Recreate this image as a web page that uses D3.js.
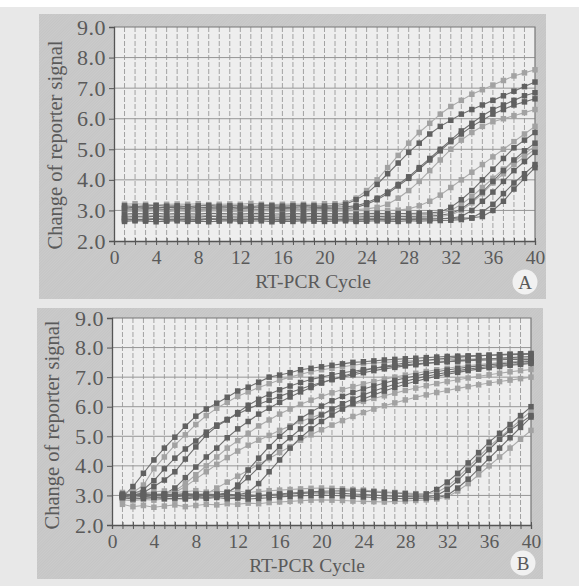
<!DOCTYPE html>
<html>
<head>
<meta charset="utf-8">
<style>
body { margin: 0; background: #fff; }
svg text { font-family: "Liberation Serif", "Times New Roman", serif; fill: #5a5a5a; }
</style>
</head>
<body>
<svg width="579" height="586"></svg>
<script src="https://d3js.org/d3.v7.min.js"></script>
<script>

// ---- data ----
var cycles = [1,2,3,4,5,6,7,8,9,10,11,12,13,14,15,16,17,18,19,20,
              21,22,23,24,25,26,27,28,29,30,31,32,33,34,35,36,37,38,39,40];
var xTicks = [0,4,8,12,16,20,24,28,32,36,40];
var yTicks = [2,3,4,5,6,7,8,9];

// panel A: early risers
var aU1 = [3.20,3.22,3.20,3.18,3.20,3.21,3.20,3.22,3.19,3.20,3.21,3.20,3.23,3.20,3.19,3.20,3.21,3.20,3.20,3.22,3.22,3.25,3.40,3.65,4.00,4.40,4.80,5.20,5.55,5.85,6.15,6.40,6.60,6.80,6.95,7.10,7.25,7.40,7.50,7.60];
var aU2 = [3.15,3.13,3.15,3.16,3.14,3.15,3.13,3.15,3.16,3.14,3.15,3.15,3.13,3.16,3.15,3.14,3.15,3.16,3.15,3.14,3.16,3.20,3.35,3.55,3.85,4.20,4.55,4.90,5.20,5.50,5.75,5.95,6.15,6.30,6.45,6.60,6.75,6.90,7.05,7.20];
var aU3 = [3.08,3.10,3.11,3.09,3.10,3.10,3.12,3.09,3.10,3.11,3.10,3.08,3.10,3.11,3.10,3.09,3.10,3.12,3.10,3.10,3.11,3.12,3.15,3.25,3.40,3.60,3.85,4.10,4.40,4.70,5.00,5.30,5.60,5.85,6.10,6.30,6.45,6.60,6.75,6.85];
var aU4 = [3.05,3.04,3.06,3.05,3.03,3.05,3.06,3.04,3.05,3.05,3.04,3.06,3.05,3.03,3.05,3.06,3.05,3.04,3.05,3.06,3.05,3.06,3.10,3.20,3.35,3.55,3.80,4.05,4.35,4.65,4.95,5.25,5.50,5.75,5.95,6.15,6.30,6.45,6.55,6.65];
var aU5 = [2.98,3.00,3.01,2.99,3.00,3.02,3.00,2.98,3.00,3.01,3.00,2.99,3.00,3.01,3.00,2.99,3.01,3.00,3.00,3.02,3.01,3.02,3.03,3.05,3.10,3.20,3.40,3.65,3.95,4.30,4.65,5.00,5.30,5.55,5.75,5.90,6.00,6.10,6.20,6.30];
// panel A: late risers
var aL1 = [2.96,2.98,2.97,2.99,2.96,2.98,2.97,2.96,2.99,2.98,2.97,2.96,2.98,2.99,2.97,2.96,2.98,2.97,2.99,2.98,2.97,2.98,2.99,3.00,2.99,3.00,3.01,3.05,3.15,3.30,3.50,3.75,4.00,4.25,4.50,4.75,5.00,5.25,5.50,5.75];
var aL2 = [2.88,2.90,2.89,2.91,2.88,2.90,2.89,2.88,2.91,2.90,2.89,2.88,2.90,2.91,2.89,2.88,2.90,2.89,2.91,2.90,2.89,2.90,2.88,2.90,2.91,2.89,2.90,2.90,2.91,2.92,2.95,3.10,3.35,3.65,4.00,4.35,4.70,5.05,5.30,5.55];
var aL3 = [2.78,2.80,2.79,2.81,2.78,2.80,2.79,2.78,2.81,2.80,2.79,2.78,2.80,2.81,2.79,2.78,2.80,2.79,2.81,2.80,2.79,2.80,2.78,2.80,2.81,2.79,2.80,2.80,2.81,2.82,2.84,2.90,3.05,3.30,3.60,3.95,4.30,4.65,4.95,5.20];
var aL4 = [2.74,2.76,2.75,2.73,2.75,2.76,2.74,2.75,2.73,2.75,2.76,2.74,2.75,2.76,2.73,2.75,2.74,2.76,2.75,2.74,2.75,2.76,2.74,2.75,2.76,2.75,2.74,2.76,2.77,2.78,2.80,2.85,3.00,3.25,3.55,3.90,4.20,4.50,4.75,5.00];
var aL5 = [2.68,2.70,2.69,2.71,2.68,2.70,2.69,2.68,2.71,2.70,2.69,2.68,2.70,2.71,2.69,2.68,2.70,2.69,2.71,2.70,2.69,2.70,2.68,2.70,2.71,2.69,2.70,2.70,2.71,2.72,2.73,2.75,2.80,3.00,3.30,3.60,3.95,4.30,4.60,4.90];
var aL6 = [2.64,2.66,2.65,2.63,2.65,2.66,2.64,2.65,2.63,2.65,2.66,2.64,2.65,2.66,2.63,2.65,2.64,2.66,2.65,2.64,2.65,2.66,2.64,2.65,2.66,2.65,2.64,2.66,2.65,2.66,2.67,2.68,2.70,2.75,2.95,3.20,3.55,3.90,4.20,4.50];
var aL7 = [2.84,2.86,2.85,2.83,2.85,2.86,2.84,2.85,2.83,2.85,2.86,2.84,2.85,2.86,2.83,2.85,2.84,2.86,2.85,2.84,2.85,2.86,2.84,2.85,2.86,2.85,2.84,2.86,2.86,2.87,2.90,3.00,3.20,3.45,3.75,4.05,4.35,4.60,4.85,5.10];
var aL8 = [2.72,2.70,2.71,2.73,2.70,2.72,2.71,2.70,2.73,2.72,2.71,2.70,2.72,2.73,2.71,2.70,2.72,2.71,2.73,2.72,2.71,2.72,2.70,2.72,2.73,2.71,2.72,2.72,2.73,2.72,2.73,2.74,2.75,2.76,2.80,3.00,3.30,3.70,4.05,4.40];

// panel B: early risers
var bE1 = [2.95,3.30,3.75,4.20,4.60,4.97,5.34,5.68,5.92,6.12,6.32,6.53,6.66,6.83,7.00,7.07,7.15,7.25,7.30,7.35,7.40,7.45,7.50,7.52,7.55,7.58,7.60,7.62,7.64,7.66,7.68,7.70,7.71,7.72,7.73,7.74,7.75,7.76,7.77,7.78];
var bE2 = [2.90,3.10,3.35,3.90,4.30,4.70,5.05,5.40,5.70,5.95,6.15,6.35,6.50,6.65,6.78,6.90,7.00,7.10,7.18,7.25,7.30,7.35,7.40,7.45,7.48,7.50,7.52,7.54,7.56,7.57,7.58,7.59,7.60,7.61,7.62,7.62,7.63,7.64,7.64,7.65];
var bE3 = [3.00,3.05,3.20,3.50,3.90,4.26,4.57,4.84,5.14,5.38,5.57,5.75,5.92,6.08,6.22,6.35,6.48,6.60,6.72,6.82,6.92,7.00,7.08,7.15,7.22,7.28,7.33,7.38,7.42,7.46,7.50,7.53,7.56,7.58,7.60,7.62,7.64,7.66,7.68,7.70];
var bE4 = [2.95,3.00,3.10,3.30,3.52,3.80,4.23,4.64,5.04,5.34,5.55,5.80,6.05,6.25,6.42,6.57,6.70,6.82,6.92,7.00,7.08,7.15,7.20,7.25,7.30,7.34,7.38,7.42,7.45,7.48,7.50,7.52,7.54,7.56,7.57,7.58,7.59,7.60,7.60,7.60];
var bE5 = [3.00,2.98,3.00,3.02,3.05,3.15,3.40,3.70,4.00,4.30,4.60,4.85,5.10,5.35,5.55,5.75,5.92,6.08,6.22,6.35,6.47,6.58,6.68,6.77,6.85,6.93,7.00,7.07,7.13,7.19,7.25,7.30,7.35,7.39,7.43,7.46,7.49,7.52,7.54,7.56];
var bE6 = [3.00,3.02,2.98,3.00,3.05,3.25,3.60,3.96,4.30,4.60,4.95,5.25,5.50,5.75,5.95,6.15,6.33,6.50,6.65,6.80,6.92,7.03,7.13,7.22,7.30,7.37,7.43,7.48,7.53,7.57,7.61,7.64,7.67,7.70,7.72,7.74,7.76,7.78,7.79,7.80];
// panel B: middle risers
var bM1 = [2.90,2.88,2.92,2.90,2.95,3.10,3.30,3.55,3.80,4.05,4.28,4.50,4.70,4.87,5.03,5.20,5.35,5.50,5.63,5.75,5.87,5.98,6.08,6.18,6.28,6.37,6.46,6.55,6.63,6.71,6.78,6.85,6.91,6.97,7.03,7.08,7.13,7.18,7.22,7.26];
var bM2 = [2.85,2.82,2.86,2.84,2.88,2.86,2.90,2.95,3.05,3.25,3.45,3.65,3.85,4.05,4.25,4.45,4.65,4.87,5.05,5.22,5.38,5.53,5.67,5.80,5.92,6.03,6.13,6.23,6.32,6.40,6.48,6.55,6.62,6.68,6.74,6.80,6.85,6.90,6.95,7.00];
var bM3 = [3.02,3.00,3.04,3.01,3.03,3.00,3.02,3.04,3.01,3.03,3.08,3.35,3.86,4.26,4.65,5.00,5.30,5.60,5.82,6.02,6.20,6.35,6.48,6.60,6.70,6.80,6.89,6.97,7.05,7.12,7.18,7.24,7.29,7.34,7.38,7.42,7.45,7.48,7.51,7.54];
var bM4 = [2.98,3.00,2.97,3.01,2.99,2.98,3.00,2.97,2.99,3.00,3.10,3.30,3.60,3.95,4.30,4.65,4.95,5.25,5.50,5.72,5.92,6.10,6.26,6.40,6.53,6.65,6.76,6.86,6.95,7.03,7.10,7.16,7.22,7.27,7.32,7.36,7.40,7.43,7.46,7.49];
var bM5 = [3.05,3.03,3.06,3.04,3.05,3.03,3.06,3.04,3.05,3.03,3.04,3.02,3.10,3.40,3.80,4.20,4.60,4.95,5.25,5.50,5.72,5.92,6.10,6.26,6.40,6.53,6.65,6.76,6.86,6.95,7.03,7.10,7.16,7.22,7.27,7.32,7.36,7.40,7.43,7.46];
// panel B: late risers
var bL1 = [3.02,3.00,3.04,2.98,3.01,3.03,2.99,3.02,3.00,3.04,3.01,2.99,3.02,3.00,3.03,3.05,3.08,3.10,3.12,3.14,3.15,3.16,3.15,3.14,3.12,3.10,3.08,3.06,3.04,3.05,3.20,3.45,3.75,4.10,4.45,4.80,5.10,5.40,5.70,6.00];
var bL2 = [3.10,3.14,3.08,3.12,3.15,3.10,3.13,3.16,3.11,3.14,3.12,3.15,3.10,3.13,3.16,3.18,3.20,3.22,3.24,3.25,3.24,3.22,3.20,3.18,3.15,3.12,3.10,3.08,3.06,3.05,3.10,3.30,3.60,3.95,4.30,4.65,4.95,5.25,5.55,5.85];
var bL3 = [2.92,2.88,2.90,2.93,2.89,2.91,2.88,2.92,2.90,2.93,2.89,2.91,2.88,2.90,2.92,2.95,2.97,2.99,3.00,3.01,3.00,2.99,2.97,2.95,2.93,2.91,2.90,2.89,2.90,2.91,2.93,3.00,3.25,3.55,3.90,4.25,4.60,4.95,5.30,5.65];
var bL4 = [2.70,2.62,2.66,2.60,2.64,2.68,2.62,2.66,2.70,2.68,2.72,2.70,2.74,2.72,2.76,2.78,2.80,2.82,2.84,2.85,2.84,2.83,2.81,2.80,2.79,2.78,2.80,2.81,2.83,2.85,2.88,2.95,3.15,3.40,3.70,4.00,4.30,4.60,4.90,5.20];
var bL5 = [2.96,2.93,2.97,2.94,2.95,2.98,2.94,2.96,2.93,2.97,2.95,2.94,2.96,2.98,3.00,3.03,3.05,3.07,3.08,3.09,3.08,3.07,3.05,3.03,3.01,2.99,2.97,2.96,2.95,2.96,3.00,3.20,3.50,3.85,4.20,4.55,4.90,5.20,5.45,5.70];

var seriesA = [aU1, aU2, aU3, aU4, aU5, aL1, aL2, aL3, aL4, aL5, aL6, aL7, aL8];
var seriesB = [bE1, bE2, bE3, bE4, bE5, bE6, bM1, bM2, bM3, bM4, bM5, bL1, bL2, bL3, bL4, bL5];

// ---- drawing ----
var toneA = ["light","dark","dark","dark","light","light","dark","dark","light","dark","dark","light","dark"];
var toneB = ["dark","light","dark","dark","light","dark","light","light","dark","dark","dark","dark","light","dark","light","dark"];
var lineCol = {dark: "#707070", light: "#aaaaaa"};
var markCol = {dark: "#606060", light: "#a2a2a2"};

var svg = d3.select("svg");

var defs = svg.append("defs");
var pat = defs.append("pattern")
    .attr("id", "hatch")
    .attr("width", 2).attr("height", 2)
    .attr("patternUnits", "userSpaceOnUse")
    .attr("patternTransform", "rotate(45)");
pat.append("rect").attr("width", 2).attr("height", 2).attr("fill", "#cbcbcb");
pat.append("line").attr("x1", 0).attr("y1", 0).attr("x2", 0).attr("y2", 2)
    .attr("stroke", "#c0c0c0").attr("stroke-width", 1);

svg.append("rect").attr("width", 579).attr("height", 586).attr("fill", "#e8e8e8");
svg.append("rect").attr("width", 579).attr("height", 7).attr("fill", "#fff");

function drawPanel(p) {
  svg.append("rect")
      .attr("x", p.box[0]).attr("y", p.box[1])
      .attr("width", p.box[2] - p.box[0]).attr("height", p.box[3] - p.box[1])
      .attr("fill", "url(#hatch)");

  var x = d3.scaleLinear().domain([0, 40]).range([p.left, p.right]);
  var y = d3.scaleLinear().domain([2, 9]).range([p.bottom, p.top]);

  var g = svg.append("g");

  g.append("rect")
      .attr("x", p.left).attr("y", p.top)
      .attr("width", p.right - p.left).attr("height", p.bottom - p.top)
      .attr("fill", "#eeeeee");

  g.append("g").selectAll("line")
    .data(cycles.slice(0, 39))
    .join("line")
      .attr("x1", function(d) { return x(d); })
      .attr("x2", function(d) { return x(d); })
      .attr("y1", p.top).attr("y2", p.bottom)
      .attr("stroke", "#9a9a9a").attr("stroke-width", 0.9)
      .attr("stroke-dasharray", "5,2");

  g.append("g").selectAll("line")
    .data(yTicks.slice(1, -1))
    .join("line")
      .attr("x1", p.left).attr("x2", p.right)
      .attr("y1", function(d) { return y(d); })
      .attr("y2", function(d) { return y(d); })
      .attr("stroke", "#969696").attr("stroke-width", 1);

  // top and right border
  g.append("path")
      .attr("d", "M" + p.left + "," + p.top + "H" + p.right + "V" + p.bottom)
      .attr("fill", "none").attr("stroke", "#777").attr("stroke-width", 1.2);

  var line = d3.line()
      .x(function(d, i) { return x(cycles[i]); })
      .y(function(d) { return y(d); });

  g.append("g").selectAll("path")
    .data(p.series)
    .join("path")
      .attr("d", line)
      .attr("fill", "none")
      .attr("stroke", function(d, i) { return lineCol[p.tone[i]]; })
      .attr("stroke-width", 1.1);

  ["light", "dark"].forEach(function(t) {
    p.series.forEach(function(s, i) {
      if (p.tone[i] != t) return;
      g.append("g").selectAll("rect")
        .data(s)
        .join("rect")
          .attr("x", function(d, j) { return x(cycles[j]) - 2.75; })
          .attr("y", function(d) { return y(d) - 2.75; })
          .attr("width", 5.5).attr("height", 5.5)
          .attr("fill", markCol[t]);
    });
  });

  var xAxis = g.append("g")
      .attr("transform", "translate(0," + p.bottom + ")")
      .call(d3.axisBottom(x)
        .tickValues([0].concat(cycles))
        .tickSize(4).tickPadding(5)
        .tickFormat(function(d) { return xTicks.indexOf(d) > -1 ? d : ""; }));
  xAxis.selectAll(".tick line").attr("y1", -3).attr("stroke", "#555");
  xAxis.select(".domain").attr("stroke", "#555").attr("stroke-width", 1.3);
  xAxis.selectAll("text").attr("font-size", 19.5).attr("fill", "#5a5a5a");
  xAxis.attr("font-family", null);

  var yAxis = g.append("g")
      .attr("transform", "translate(" + p.left + ",0)")
      .call(d3.axisLeft(y)
        .tickValues(yTicks)
        .tickSize(5).tickPadding(3)
        .tickFormat(d3.format(".1f")));
  yAxis.select(".domain").attr("stroke", "#555").attr("stroke-width", 1.3);
  yAxis.selectAll(".tick line").attr("stroke", "#555");
  yAxis.selectAll("text").attr("font-size", 22).attr("fill", "#5a5a5a")
      .attr("letter-spacing", 0.5);
  yAxis.attr("font-family", null);

  svg.append("text")
      .attr("transform", "translate(" + p.ylab[0] + "," + p.ylab[1] + ") rotate(-90)")
      .attr("text-anchor", "middle")
      .attr("font-size", 20.5)
      .text("Change of reporter signal");

  svg.append("text")
      .attr("x", p.xlab[0]).attr("y", p.xlab[1])
      .attr("text-anchor", "middle")
      .attr("font-size", 19.5)
      .text("RT-PCR Cycle");

  svg.append("circle")
      .attr("cx", p.badge[0]).attr("cy", p.badge[1]).attr("r", 12.5)
      .attr("fill", "#f1f1f1");
  svg.append("text")
      .attr("x", p.badge[0]).attr("y", p.badge[1] + 6.5)
      .attr("text-anchor", "middle")
      .attr("font-size", 19)
      .text(p.letter);
}

drawPanel({
  box: [39, 14, 546, 299],
  left: 114, right: 535, top: 27, bottom: 241,
  series: seriesA, tone: toneA,
  ylab: [62, 145], xlab: [313, 288], badge: [525, 282], letter: "A"
});

drawPanel({
  box: [37, 308, 543, 579],
  left: 112, right: 531, top: 318, bottom: 525,
  series: seriesB, tone: toneB,
  ylab: [59, 425], xlab: [307, 572], badge: [523, 563], letter: "B"
});

</script>
</body>
</html>
